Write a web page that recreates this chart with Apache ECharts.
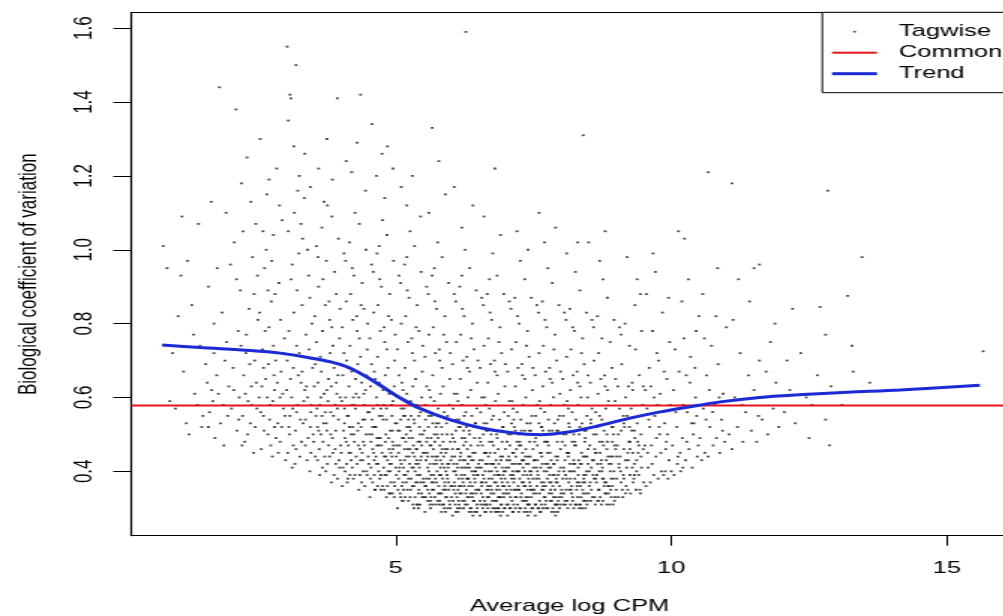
<!DOCTYPE html>
<html><head><meta charset="utf-8">
<script src="https://cdn.jsdelivr.net/npm/echarts@6/dist/echarts.min.js"></script>
<style>html,body{margin:0;padding:0;background:#fff;overflow:hidden}
#wrap{width:1003px;height:616px;overflow:hidden;position:relative}
#c{width:669px;height:616px;transform:scaleX(1.5);transform-origin:0 0;}</style>
</head><body><div id="wrap"><div id="c"></div></div>
<script>
// ---- data ----
const xTicks = [5, 10, 15];
const yTicks = [0.4, 0.6, 0.8, 1.0, 1.2, 1.4, 1.6];
const commonX = [0.2, 16.11];
const commonBCV = [0.578, 0.578];
const trendX = [0.76, 1.45, 2.36, 2.9, 3.45, 3.8, 4.1, 4.35, 4.6, 4.85, 5.1, 5.44, 5.98, 6.53, 7.07, 7.62, 8.16, 8.7, 9.25, 9.8, 10.34, 10.89, 11.6, 12.3, 13.2, 14.15, 15.6];
const trendY = [0.742, 0.735, 0.727, 0.72, 0.707, 0.697, 0.684, 0.666, 0.644, 0.620, 0.597, 0.570, 0.540, 0.518, 0.505, 0.499, 0.507, 0.524, 0.544, 0.561, 0.575, 0.588, 0.600, 0.607, 0.614, 0.620, 0.633];

const tagwiseA = [
[0.78,1.01],[0.85,0.95],[0.95,0.72],[1.0,0.57],[1.05,0.82],[1.1,0.93],[1.15,0.67],[1.2,0.53],[1.25,0.50],[1.3,0.85],[1.35,0.61],[1.4,0.58],[1.42,1.07],[1.45,0.74],[1.5,0.55],[0.9,0.59],[1.22,0.97],[1.33,0.77],[1.48,0.52],[1.12,1.09],
[1.55,0.69],[1.58,0.64],[1.6,0.90],[1.62,0.56],[1.65,1.13],[1.68,0.59],[1.7,0.72],[1.72,0.49],[1.75,0.66],[1.78,0.61],[1.8,1.44],[1.82,0.53],[1.85,0.83],[1.87,0.58],[1.9,0.70],[1.92,1.10],[1.95,0.55],[1.97,0.63],[2.0,0.96],[1.6,0.52],[1.7,0.80],[1.88,0.47],[1.93,0.75],[1.66,0.62],[1.76,0.95],
[2.02,0.57],[2.05,0.68],[2.07,1.02],[2.1,1.38],[2.12,0.51],[2.14,0.78],[2.16,0.60],[2.18,0.89],[2.2,1.18],[2.22,0.55],[2.24,0.66],[2.26,0.48],[2.28,0.72],[2.3,1.25],[2.32,0.59],[2.34,0.84],[2.36,0.53],[2.38,0.63],[2.4,0.98],[2.42,0.45],[2.44,0.70],[2.46,1.07],[2.48,0.57],[2.5,0.81],
[2.06,0.62],[2.11,0.92],[2.15,0.54],[2.19,0.74],[2.23,1.05],[2.27,0.61],[2.31,0.50],[2.35,0.69],[2.39,0.58],[2.43,0.88],[2.47,0.64],[2.21,0.47],[2.29,0.77],[2.37,1.13],[2.45,0.52],[2.49,0.93],
[2.52,0.60],[2.54,1.30],[2.56,0.46],[2.58,0.73],[2.6,0.55],[2.62,0.95],[2.64,0.65],[2.66,1.15],[2.68,0.50],[2.7,0.79],[2.72,0.58],[2.74,0.86],[2.76,0.44],[2.78,1.04],[2.8,0.62],[2.82,0.70],[2.84,1.22],[2.86,0.53],[2.88,0.91],[2.9,0.48],[2.92,0.67],[2.94,1.08],[2.96,0.57],[2.98,0.76],[3.0,0.43],
[2.53,0.83],[2.57,0.63],[2.61,0.51],[2.65,1.00],[2.69,0.69],[2.73,0.47],[2.77,0.59],[2.81,0.88],[2.85,0.64],[2.89,1.12],[2.93,0.52],[2.97,0.72],[2.55,0.56],[2.63,0.78],[2.71,0.54],[2.79,0.66],[2.87,0.45],[2.95,0.61],[2.59,1.05],[2.67,0.60],[2.75,0.97],[2.83,0.49],[2.91,0.81],[2.99,0.55],[2.6,0.68],[2.7,1.19],[2.8,0.52],[2.9,0.60],[2.78,0.74],[2.68,0.89],
[3.03,1.55],[3.19,1.50],[3.08,1.42],[3.1,1.41],[3.05,1.35],[3.15,1.28],[3.25,1.20],[3.35,1.26],[3.45,1.17],
[3.02,0.62],[3.04,0.45],[3.06,0.78],[3.08,0.55],[3.1,0.92],[3.12,0.41],[3.14,0.68],[3.16,1.10],[3.18,0.51],[3.2,0.74],[3.22,0.58],[3.24,0.99],[3.26,0.44],[3.28,0.64],[3.3,0.85],[3.32,0.53],[3.34,1.14],[3.36,0.47],[3.38,0.71],[3.4,0.60],[3.42,0.93],[3.44,0.40],[3.46,0.56],[3.48,0.80],[3.5,0.50],
[3.03,0.70],[3.07,0.50],[3.11,0.60],[3.15,0.83],[3.19,0.46],[3.23,0.66],[3.27,0.54],[3.31,1.03],[3.35,0.62],[3.39,0.43],[3.43,0.73],[3.47,0.58],[3.05,1.05],[3.13,0.57],[3.21,0.89],[3.29,0.48],[3.37,0.77],[3.45,0.52],[3.09,0.65],[3.17,0.42],[3.25,0.72],[3.33,0.59],[3.41,0.49],[3.49,0.68],[3.12,0.96],[3.28,1.07],[3.44,0.87],[3.2,0.56],[3.36,0.54],[3.06,0.52],[3.14,0.47],[3.3,0.67],[3.46,0.45],[3.4,1.00],[3.22,1.16],[3.38,0.63]
];
const tagwiseB = [
[3.94,1.41],[3.6,1.22],[3.75,1.30],[3.85,1.19],[3.7,1.13],
[3.52,0.63],[3.54,0.44],[3.56,0.75],[3.58,0.52],[3.6,0.90],[3.62,0.39],[3.64,0.60],[3.66,1.06],[3.68,0.48],[3.7,0.70],[3.72,0.56],[3.74,0.97],[3.76,0.42],[3.78,0.65],[3.8,0.81],[3.82,0.50],[3.84,1.09],[3.86,0.45],[3.88,0.68],[3.9,0.58],[3.92,0.88],[3.94,0.38],[3.96,0.54],[3.98,0.76],[4.0,0.47],
[3.53,0.82],[3.57,0.57],[3.61,0.46],[3.65,0.67],[3.69,0.53],[3.73,0.40],[3.77,0.59],[3.81,0.72],[3.85,0.49],[3.89,0.94],[3.93,0.61],[3.97,0.43],[3.55,0.55],[3.63,0.71],[3.71,0.44],[3.79,0.86],[3.87,0.55],[3.95,0.66],[3.59,0.98],[3.67,0.41],[3.75,0.62],[3.83,0.37],[3.91,0.51],[3.99,0.60],[3.51,0.48],[3.59,0.64],[3.67,0.78],[3.75,0.51],[3.83,0.63],[3.91,0.42],[3.99,0.84],[3.56,1.01],[3.64,0.50],[3.72,0.85],[3.8,0.44],[3.88,0.39],[3.96,1.03],[3.62,0.58],[3.78,0.47],[3.94,0.57],[3.7,0.61],[3.86,0.74],[3.54,0.69],[3.68,0.92],[3.82,0.56],[3.98,0.41],[3.74,0.53],[3.9,0.46],[3.58,0.43],[3.66,0.55],[3.84,0.79],[3.92,0.64],[3.76,1.12],[3.6,0.51],
[4.36,1.42],[4.1,1.24],[4.2,1.21],[4.3,1.29],[4.45,1.16],
[4.02,0.59],[4.04,0.41],[4.06,0.72],[4.08,0.49],[4.1,0.86],[4.12,0.37],[4.14,0.55],[4.16,1.02],[4.18,0.45],[4.2,0.67],[4.22,0.52],[4.24,0.93],[4.26,0.39],[4.28,0.61],[4.3,0.78],[4.32,0.47],[4.34,1.07],[4.36,0.43],[4.38,0.64],[4.4,0.54],[4.42,0.84],[4.44,0.36],[4.46,0.50],[4.48,0.73],[4.5,0.44],
[4.03,0.79],[4.07,0.53],[4.11,0.42],[4.15,0.63],[4.19,0.50],[4.23,0.38],[4.27,0.57],[4.31,0.69],[4.35,0.46],[4.39,0.91],[4.43,0.58],[4.47,0.40],[4.05,0.51],[4.13,0.68],[4.21,0.41],[4.29,0.82],[4.37,0.52],[4.45,0.62],[4.09,0.97],[4.17,0.39],[4.25,0.58],[4.33,0.35],[4.41,0.48],[4.49,0.56],[4.01,0.45],[4.09,0.60],[4.17,0.74],[4.25,0.48],[4.33,0.60],[4.41,0.40],[4.49,0.80],[4.06,0.99],[4.14,0.47],[4.22,0.81],[4.3,0.42],[4.38,0.37],[4.46,1.00],[4.12,0.55],[4.28,0.44],[4.44,0.54],[4.2,0.58],[4.36,0.71],[4.04,0.66],[4.18,0.88],[4.32,0.53],[4.48,0.39],[4.24,0.50],[4.4,0.43],[4.08,0.40],[4.16,0.52],[4.34,0.76],[4.42,0.61],[4.26,1.10],[4.1,0.48],[4.03,0.36],[4.11,0.70],[4.19,0.43],[4.27,0.65],[4.35,0.39],[4.43,0.47],[4.07,0.57],[4.15,0.45],[4.23,0.60],[4.31,0.51],[4.39,0.45],[4.47,0.66],[4.21,0.95],[4.37,0.85],[4.13,0.38],
[4.57,1.34],[4.75,1.26],[4.85,1.28],[4.95,1.22],[4.65,1.20],[4.8,1.14],
[4.52,0.56],[4.54,0.38],[4.56,0.69],[4.58,0.46],[4.6,0.83],[4.62,0.35],[4.64,0.52],[4.66,0.99],[4.68,0.42],[4.7,0.64],[4.72,0.49],[4.74,0.90],[4.76,0.36],[4.78,0.58],[4.8,0.75],[4.82,0.44],[4.84,1.04],[4.86,0.40],[4.88,0.61],[4.9,0.51],[4.92,0.81],[4.94,0.34],[4.96,0.47],[4.98,0.70],[5.0,0.41],
[4.53,0.76],[4.57,0.50],[4.61,0.39],[4.65,0.60],[4.69,0.47],[4.73,0.35],[4.77,0.54],[4.81,0.66],[4.85,0.43],[4.89,0.88],[4.93,0.55],[4.97,0.37],[4.55,0.48],[4.63,0.65],[4.71,0.38],[4.79,0.79],[4.87,0.49],[4.95,0.59],[4.59,0.94],[4.67,0.36],[4.75,0.55],[4.83,0.33],[4.91,0.45],[4.99,0.53],[4.51,0.42],[4.59,0.57],[4.67,0.71],[4.75,0.45],[4.83,0.57],[4.91,0.37],[4.99,0.77],[4.56,0.96],[4.64,0.44],[4.72,0.78],[4.8,0.39],[4.88,0.34],[4.96,0.97],[4.62,0.52],[4.78,0.41],[4.94,0.51],[4.7,0.55],[4.86,0.68],[4.54,0.63],[4.68,0.85],[4.82,0.50],[4.98,0.36],[4.74,0.47],[4.9,0.40],[4.58,0.37],[4.66,0.49],[4.84,0.73],[4.92,0.58],[4.76,1.08],[4.6,0.45],[4.53,0.33],[4.61,0.67],[4.69,0.40],[4.77,0.62],[4.85,0.36],[4.93,0.44],[4.57,0.54],[4.65,0.42],[4.73,0.57],[4.81,0.48],[4.89,0.42],[4.97,0.63],[4.71,0.92],[4.87,0.82],[4.63,0.35],[4.55,0.41],[4.79,0.44],[4.95,0.46],[4.67,0.58],[4.83,0.39],[4.52,0.50],[4.9,0.34],[4.7,1.01],
[5.3,1.20],[5.1,1.17],[5.45,1.09],[5.2,1.12],
[5.02,0.53],[5.04,0.35],[5.06,0.66],[5.08,0.43],[5.1,0.80],[5.12,0.32],[5.14,0.49],[5.16,0.96],[5.18,0.39],[5.2,0.61],[5.22,0.46],[5.24,0.87],[5.26,0.33],[5.28,0.55],[5.3,0.72],[5.32,0.41],[5.34,1.01],[5.36,0.37],[5.38,0.58],[5.4,0.48],[5.42,0.78],[5.44,0.31],[5.46,0.44],[5.48,0.67],[5.5,0.38],
[5.03,0.73],[5.07,0.47],[5.11,0.36],[5.15,0.57],[5.19,0.44],[5.23,0.32],[5.27,0.51],[5.31,0.63],[5.35,0.40],[5.39,0.85],[5.43,0.52],[5.47,0.34],[5.05,0.45],[5.13,0.62],[5.21,0.35],[5.29,0.76],[5.37,0.46],[5.45,0.56],[5.09,0.91],[5.17,0.33],[5.25,0.52],[5.33,0.30],[5.41,0.42],[5.49,0.50],[5.01,0.39],[5.09,0.54],[5.17,0.68],[5.25,0.42],[5.33,0.54],[5.41,0.34],[5.49,0.74],[5.06,0.93],[5.14,0.41],[5.22,0.75],[5.3,0.36],[5.38,0.31],[5.46,0.94],[5.12,0.49],[5.28,0.38],[5.44,0.48],[5.2,0.52],[5.36,0.65],[5.04,0.60],[5.18,0.82],[5.32,0.47],[5.48,0.33],[5.24,0.44],[5.4,0.37],[5.08,0.34],[5.16,0.46],[5.34,0.70],[5.42,0.55],[5.26,1.05],[5.1,0.42],[5.03,0.30],[5.11,0.64],[5.19,0.37],[5.27,0.59],[5.35,0.33],[5.43,0.41],[5.07,0.51],[5.15,0.39],[5.23,0.54],[5.31,0.45],[5.39,0.39],[5.47,0.60],[5.21,0.89],[5.37,0.79],[5.13,0.32],[5.05,0.38],[5.29,0.41],[5.45,0.43],[5.17,0.55],[5.33,0.36],[5.02,0.47],[5.4,0.31],[5.2,0.98],[5.06,0.40],[5.14,0.35],[5.22,0.40],[5.3,0.49],[5.38,0.43],[5.46,0.37],[5.1,0.57],[5.26,0.46],[5.42,0.35],[5.34,0.44],[5.18,0.48],[5.5,0.45]
];
const tagwiseC = [
[5.66,1.33],[5.78,1.24],[5.9,1.15],[5.6,1.10],
[5.52,0.51],[5.54,0.33],[5.56,0.63],[5.58,0.41],[5.6,0.77],[5.62,0.31],[5.64,0.47],[5.66,0.93],[5.68,0.37],[5.7,0.59],[5.72,0.44],[5.74,0.84],[5.76,0.32],[5.78,0.53],[5.8,0.70],[5.82,0.39],[5.84,0.98],[5.86,0.35],[5.88,0.56],[5.9,0.46],[5.92,0.75],[5.94,0.30],[5.96,0.42],[5.98,0.65],[6.0,0.36],
[5.53,0.71],[5.57,0.45],[5.61,0.34],[5.65,0.55],[5.69,0.42],[5.73,0.31],[5.77,0.49],[5.81,0.61],[5.85,0.38],[5.89,0.82],[5.93,0.50],[5.97,0.32],[5.55,0.43],[5.63,0.60],[5.71,0.33],[5.79,0.73],[5.87,0.44],[5.95,0.54],[5.59,0.88],[5.67,0.31],[5.75,0.50],[5.83,0.29],[5.91,0.40],[5.99,0.48],[5.51,0.37],[5.59,0.52],[5.67,0.66],[5.75,0.40],[5.83,0.52],[5.91,0.33],[5.99,0.72],[5.56,0.90],[5.64,0.39],[5.72,0.72],[5.8,0.34],[5.88,0.30],[5.96,0.91],[5.62,0.47],[5.78,0.36],[5.94,0.46],[5.7,0.50],[5.86,0.63],[5.54,0.58],[5.68,0.79],[5.82,0.45],[5.98,0.31],[5.74,0.42],[5.9,0.35],[5.58,0.32],[5.66,0.44],[5.84,0.68],[5.92,0.53],[5.76,1.02],[5.6,0.40],[5.53,0.29],[5.61,0.62],[5.69,0.35],[5.77,0.57],[5.85,0.31],[5.93,0.39],[5.57,0.49],[5.65,0.37],[5.73,0.52],[5.81,0.43],[5.89,0.37],[5.97,0.58],[5.71,0.86],[5.87,0.77],[5.63,0.30],[5.55,0.36],[5.79,0.39],[5.95,0.41],[5.67,0.53],[5.83,0.34],[5.52,0.45],[5.9,0.29],[5.7,0.95],[5.56,0.38],[5.64,0.33],[5.72,0.38],[5.8,0.47],[5.88,0.41],[5.96,0.35],[5.6,0.55],[5.76,0.44],[5.92,0.33],[5.84,0.42],[5.68,0.46],[6.0,0.43],[5.58,0.35],[5.74,0.37],[5.86,0.48],[5.94,0.38],[5.62,0.42],[5.8,0.32],
[6.27,1.59],[6.06,1.17],[6.4,1.12],[6.2,1.06],
[6.02,0.50],[6.04,0.32],[6.06,0.61],[6.08,0.40],[6.1,0.75],[6.12,0.30],[6.14,0.46],[6.16,0.90],[6.18,0.36],[6.2,0.58],[6.22,0.43],[6.24,0.82],[6.26,0.31],[6.28,0.52],[6.3,0.68],[6.32,0.38],[6.34,0.95],[6.36,0.34],[6.38,0.55],[6.4,0.45],[6.42,0.73],[6.44,0.29],[6.46,0.41],[6.48,0.64],[6.5,0.35],
[6.03,0.69],[6.07,0.44],[6.11,0.33],[6.15,0.54],[6.19,0.41],[6.23,0.30],[6.27,0.48],[6.31,0.60],[6.35,0.37],[6.39,0.80],[6.43,0.49],[6.47,0.31],[6.05,0.42],[6.13,0.59],[6.21,0.32],[6.29,0.71],[6.37,0.43],[6.45,0.53],[6.09,0.86],[6.17,0.30],[6.25,0.49],[6.33,0.29],[6.41,0.39],[6.49,0.47],[6.01,0.36],[6.09,0.51],[6.17,0.65],[6.25,0.39],[6.33,0.51],[6.41,0.32],[6.49,0.70],[6.06,0.88],[6.14,0.38],[6.22,0.70],[6.3,0.33],[6.38,0.29],[6.46,0.89],[6.12,0.46],[6.28,0.35],[6.44,0.45],[6.2,0.49],[6.36,0.62],[6.04,0.57],[6.18,0.77],[6.32,0.44],[6.48,0.30],[6.24,0.41],[6.4,0.34],[6.08,0.31],[6.16,0.43],[6.34,0.67],[6.42,0.52],[6.26,1.00],[6.1,0.39],[6.03,0.28],[6.11,0.61],[6.19,0.34],[6.27,0.56],[6.35,0.30],[6.43,0.38],[6.07,0.48],[6.15,0.36],[6.23,0.51],[6.31,0.42],[6.39,0.36],[6.47,0.57],[6.21,0.84],[6.37,0.76],[6.13,0.29],[6.05,0.35],[6.29,0.38],[6.45,0.40],[6.17,0.52],[6.33,0.33],[6.02,0.44],[6.4,0.28],[6.2,0.93],[6.06,0.37],[6.14,0.32],[6.22,0.37],[6.3,0.46],[6.38,0.40],[6.46,0.34],[6.1,0.54],[6.26,0.43],[6.42,0.32],[6.34,0.41],[6.18,0.45],[6.5,0.42],[6.08,0.34],[6.24,0.36],[6.36,0.47],[6.44,0.37],[6.12,0.41],[6.3,0.31],[6.48,0.39],[6.16,0.34],
[6.8,1.22],[6.6,1.09],[6.9,1.04],
[6.52,0.49],[6.54,0.31],[6.56,0.60],[6.58,0.39],[6.6,0.74],[6.62,0.29],[6.64,0.45],[6.66,0.88],[6.68,0.35],[6.7,0.57],[6.72,0.42],[6.74,0.81],[6.76,0.30],[6.78,0.51],[6.8,0.67],[6.82,0.37],[6.84,0.93],[6.86,0.33],[6.88,0.54],[6.9,0.44],[6.92,0.72],[6.94,0.29],[6.96,0.40],[6.98,0.63],[7.0,0.34],
[6.53,0.68],[6.57,0.43],[6.61,0.32],[6.65,0.53],[6.69,0.40],[6.73,0.29],[6.77,0.47],[6.81,0.59],[6.85,0.36],[6.89,0.79],[6.93,0.48],[6.97,0.30],[6.55,0.41],[6.63,0.58],[6.71,0.31],[6.79,0.70],[6.87,0.42],[6.95,0.52],[6.59,0.85],[6.67,0.30],[6.75,0.48],[6.83,0.29],[6.91,0.38],[6.99,0.46],[6.51,0.35],[6.59,0.50],[6.67,0.64],[6.75,0.38],[6.83,0.50],[6.91,0.31],[6.99,0.69],[6.56,0.87],[6.64,0.37],[6.72,0.69],[6.8,0.32],[6.88,0.29],[6.96,0.88],[6.62,0.45],[6.78,0.34],[6.94,0.44],[6.7,0.48],[6.86,0.61],[6.54,0.56],[6.68,0.76],[6.82,0.43],[6.98,0.30],[6.74,0.40],[6.9,0.33],[6.58,0.30],[6.66,0.42],[6.84,0.66],[6.92,0.51],[6.76,0.99],[6.6,0.38],[6.53,0.28],[6.61,0.60],[6.69,0.33],[6.77,0.55],[6.85,0.30],[6.93,0.37],[6.57,0.47],[6.65,0.35],[6.73,0.50],[6.81,0.41],[6.89,0.35],[6.97,0.56],[6.71,0.83],[6.87,0.75],[6.63,0.29],[6.55,0.34],[6.79,0.37],[6.95,0.39],[6.67,0.51],[6.83,0.32],[6.52,0.43],[6.9,0.28],[6.7,0.92],[6.56,0.36],[6.64,0.31],[6.72,0.36],[6.8,0.45],[6.88,0.39],[6.96,0.33],[6.6,0.53],[6.76,0.42],[6.92,0.31],[6.84,0.40],[6.68,0.44],[7.0,0.41],[6.58,0.33],[6.74,0.35],[6.86,0.46],[6.94,0.36],[6.62,0.40],[6.8,0.30],[6.98,0.38],[6.66,0.33],
[7.2,1.05],[7.4,1.00],
[7.02,0.48],[7.04,0.31],[7.06,0.59],[7.08,0.39],[7.1,0.73],[7.12,0.29],[7.14,0.45],[7.16,0.87],[7.18,0.35],[7.2,0.56],[7.22,0.42],[7.24,0.80],[7.26,0.30],[7.28,0.51],[7.3,0.66],[7.32,0.37],[7.34,0.92],[7.36,0.33],[7.38,0.53],[7.4,0.44],[7.42,0.71],[7.44,0.29],[7.46,0.40],[7.48,0.62],[7.5,0.34],
[7.03,0.67],[7.07,0.43],[7.11,0.32],[7.15,0.52],[7.19,0.40],[7.23,0.29],[7.27,0.47],[7.31,0.58],[7.35,0.36],[7.39,0.78],[7.43,0.48],[7.47,0.30],[7.05,0.41],[7.13,0.57],[7.21,0.31],[7.29,0.69],[7.37,0.42],[7.45,0.51],[7.09,0.84],[7.17,0.30],[7.25,0.48],[7.33,0.29],[7.41,0.38],[7.49,0.46],[7.01,0.35],[7.09,0.50],[7.17,0.63],[7.25,0.38],[7.33,0.50],[7.41,0.31],[7.49,0.68],[7.06,0.86],[7.14,0.37],[7.22,0.68],[7.3,0.32],[7.38,0.29],[7.46,0.87],[7.12,0.45],[7.28,0.34],[7.44,0.44],[7.2,0.48],[7.36,0.60],[7.04,0.55],[7.18,0.75],[7.32,0.43],[7.48,0.30],[7.24,0.40],[7.4,0.33],[7.08,0.30],[7.16,0.42],[7.34,0.65],[7.42,0.51],[7.26,0.97],[7.1,0.38],[7.03,0.28],[7.11,0.59],[7.19,0.33],[7.27,0.54],[7.35,0.30],[7.43,0.37],[7.07,0.47],[7.15,0.35],[7.23,0.50],[7.31,0.41],[7.39,0.35],[7.47,0.55],[7.21,0.82],[7.37,0.74],[7.13,0.29],[7.05,0.34],[7.29,0.37],[7.45,0.39],[7.17,0.51],[7.33,0.32],[7.02,0.43],[7.4,0.28],[7.06,0.36],[7.14,0.31],[7.22,0.36],[7.3,0.45],[7.38,0.39],[7.46,0.33],[7.1,0.53],[7.26,0.42],[7.42,0.31],[7.34,0.40],[7.18,0.44],[7.5,0.41],[7.08,0.33],[7.24,0.35],[7.36,0.46],[7.44,0.36],[7.12,0.40]
];
const tagwiseD = [
[7.9,1.06],[7.7,1.02],[7.6,1.10],
[7.52,0.48],[7.54,0.31],[7.56,0.58],[7.58,0.39],[7.6,0.72],[7.62,0.29],[7.64,0.45],[7.66,0.86],[7.68,0.35],[7.7,0.56],[7.72,0.42],[7.74,0.79],[7.76,0.30],[7.78,0.51],[7.8,0.65],[7.82,0.37],[7.84,0.91],[7.86,0.33],[7.88,0.53],[7.9,0.44],[7.92,0.70],[7.94,0.29],[7.96,0.40],[7.98,0.61],[8.0,0.34],
[7.53,0.66],[7.57,0.43],[7.61,0.32],[7.65,0.52],[7.69,0.40],[7.73,0.30],[7.77,0.47],[7.81,0.58],[7.85,0.36],[7.89,0.77],[7.93,0.48],[7.97,0.30],[7.55,0.41],[7.63,0.57],[7.71,0.31],[7.79,0.68],[7.87,0.42],[7.95,0.51],[7.59,0.83],[7.67,0.30],[7.75,0.48],[7.83,0.29],[7.91,0.38],[7.99,0.46],[7.51,0.35],[7.59,0.50],[7.67,0.63],[7.75,0.38],[7.83,0.50],[7.91,0.31],[7.99,0.67],[7.56,0.85],[7.64,0.37],[7.72,0.67],[7.8,0.32],[7.88,0.29],[7.96,0.85],[7.62,0.45],[7.78,0.34],[7.94,0.44],[7.7,0.48],[7.86,0.60],[7.54,0.55],[7.68,0.74],[7.82,0.43],[7.98,0.31],[7.74,0.40],[7.9,0.33],[7.58,0.30],[7.66,0.42],[7.84,0.64],[7.92,0.51],[7.76,0.95],[7.6,0.38],[7.53,0.28],[7.61,0.59],[7.69,0.33],[7.77,0.54],[7.85,0.30],[7.93,0.37],[7.57,0.47],[7.65,0.35],[7.73,0.50],[7.81,0.41],[7.89,0.35],[7.97,0.55],[7.71,0.81],[7.87,0.73],[7.63,0.29],[7.55,0.34],[7.79,0.37],[7.95,0.39],[7.67,0.51],[7.83,0.32],[7.52,0.43],[7.9,0.28],[7.56,0.36],[7.64,0.31],[7.72,0.36],[7.8,0.45],[7.88,0.39],[7.96,0.33],[7.6,0.53],[7.76,0.42],[7.92,0.31],
[8.4,1.31],[8.3,1.02],[8.1,0.99],[8.5,1.02],
[8.02,0.48],[8.04,0.31],[8.06,0.58],[8.08,0.39],[8.1,0.71],[8.12,0.30],[8.14,0.45],[8.16,0.84],[8.18,0.35],[8.2,0.56],[8.22,0.42],[8.24,0.78],[8.26,0.31],[8.28,0.51],[8.3,0.64],[8.32,0.37],[8.34,0.89],[8.36,0.33],[8.38,0.53],[8.4,0.44],[8.42,0.69],[8.44,0.30],[8.46,0.40],[8.48,0.60],[8.5,0.34],
[8.03,0.65],[8.07,0.43],[8.11,0.32],[8.15,0.52],[8.19,0.40],[8.23,0.30],[8.27,0.47],[8.31,0.58],[8.35,0.36],[8.39,0.76],[8.43,0.48],[8.47,0.31],[8.05,0.41],[8.13,0.57],[8.21,0.32],[8.29,0.67],[8.37,0.42],[8.45,0.51],[8.09,0.81],[8.17,0.31],[8.25,0.48],[8.33,0.30],[8.41,0.38],[8.49,0.46],[8.01,0.35],[8.09,0.50],[8.17,0.62],[8.25,0.38],[8.33,0.50],[8.41,0.32],[8.49,0.66],[8.06,0.83],[8.14,0.37],[8.22,0.66],[8.3,0.33],[8.38,0.30],[8.46,0.83],[8.12,0.45],[8.28,0.35],[8.44,0.44],[8.2,0.48],[8.36,0.60],[8.04,0.55],[8.18,0.73],[8.32,0.43],[8.48,0.32],[8.24,0.40],[8.4,0.34],[8.08,0.31],[8.16,0.42],[8.34,0.63],[8.42,0.51],[8.26,0.94],[8.1,0.38],[8.11,0.59],[8.19,0.34],[8.27,0.54],[8.35,0.31],[8.43,0.37],[8.07,0.47],[8.15,0.35],[8.23,0.50],[8.31,0.41],[8.39,0.35],[8.47,0.55],[8.21,0.79],[8.37,0.72],[8.05,0.34],[8.29,0.37],[8.45,0.39],
[8.52,0.47],[8.54,0.32],[8.56,0.57],[8.58,0.39],[8.6,0.70],[8.62,0.31],[8.64,0.45],[8.66,0.82],[8.68,0.35],[8.7,0.55],[8.72,0.42],[8.74,0.76],[8.76,0.32],[8.78,0.51],[8.8,0.63],[8.82,0.37],[8.84,0.87],[8.86,0.34],[8.88,0.53],[8.9,0.44],[8.92,0.68],[8.94,0.31],[8.96,0.40],[8.98,0.59],[9.0,0.35],
[8.53,0.64],[8.57,0.43],[8.61,0.33],[8.65,0.52],[8.69,0.40],[8.73,0.31],[8.77,0.47],[8.81,0.57],[8.85,0.36],[8.89,0.75],[8.93,0.48],[8.97,0.32],[8.55,0.41],[8.63,0.56],[8.71,0.33],[8.79,0.66],[8.87,0.42],[8.95,0.50],[8.59,0.79],[8.67,0.32],[8.75,0.48],[8.83,0.31],[8.91,0.38],[8.99,0.46],[8.51,0.36],[8.59,0.50],[8.67,0.61],[8.75,0.38],[8.83,0.50],[8.91,0.33],[8.99,0.65],[8.56,0.81],[8.64,0.37],[8.72,0.65],[8.8,0.34],[8.88,0.31],[8.96,0.81],[8.62,0.45],[8.78,0.36],[8.94,0.44],[8.7,0.48],[8.86,0.59],[8.54,0.54],[8.68,0.72],[8.82,0.43],[8.98,0.33],[8.74,0.40],[8.9,0.35],[8.66,0.42],[8.84,0.62],[8.92,0.52],[8.76,0.92],[8.6,0.38],[8.8,1.05],[8.7,0.97],
[9.02,0.47],[9.04,0.33],[9.06,0.57],[9.08,0.40],[9.1,0.69],[9.12,0.33],[9.14,0.46],[9.16,0.80],[9.18,0.36],[9.2,0.55],[9.22,0.43],[9.24,0.74],[9.26,0.34],[9.28,0.51],[9.3,0.62],[9.32,0.38],[9.34,0.85],[9.36,0.35],[9.38,0.53],[9.4,0.45],[9.42,0.66],[9.44,0.34],[9.46,0.41],[9.48,0.58],[9.5,0.37],
[9.03,0.63],[9.07,0.44],[9.11,0.35],[9.15,0.52],[9.19,0.41],[9.23,0.48],[9.27,0.57],[9.31,0.37],[9.35,0.73],[9.39,0.48],[9.43,0.35],[9.05,0.41],[9.13,0.55],[9.21,0.35],[9.29,0.64],[9.37,0.43],[9.45,0.50],[9.09,0.77],[9.17,0.34],[9.25,0.48],[9.33,0.42],[9.41,0.39],[9.49,0.46],[9.01,0.38],[9.09,0.51],[9.17,0.60],[9.25,0.39],[9.33,0.51],[9.41,0.55],[9.49,0.63],[9.06,0.79],[9.14,0.38],[9.22,0.63],[9.3,0.45],[9.38,0.92],[9.46,0.78],[9.2,0.98],[9.44,0.88]
];
const tagwiseE = [
[9.52,0.47],[9.54,0.36],[9.56,0.57],[9.58,0.41],[9.6,0.68],[9.62,0.37],[9.64,0.47],[9.66,0.78],[9.68,0.39],[9.7,0.55],[9.72,0.44],[9.74,0.72],[9.76,0.38],[9.78,0.52],[9.8,0.61],[9.82,0.40],[9.84,0.83],[9.86,0.39],[9.88,0.53],[9.9,0.46],[9.92,0.65],[9.94,0.38],[9.96,0.43],[9.98,0.58],[10.0,0.40],
[9.53,0.62],[9.57,0.45],[9.61,0.52],[9.65,0.42],[9.69,0.60],[9.73,0.49],[9.77,0.70],[9.81,0.45],[9.85,0.56],[9.89,0.40],[9.93,0.50],[9.97,0.75],[9.55,0.88],[9.63,0.63],[9.71,0.94],[9.79,0.50],[9.87,0.67],[9.95,0.87],[9.59,0.54],[9.75,0.58],[9.91,0.48],[9.67,0.99],
[10.13,1.05],[10.24,1.03],
[10.02,0.47],[10.05,0.39],[10.08,0.56],[10.11,0.42],[10.14,0.67],[10.17,0.40],[10.2,0.49],[10.23,0.76],[10.26,0.43],[10.29,0.56],[10.32,0.46],[10.35,0.71],[10.38,0.41],[10.41,0.53],[10.44,0.60],[10.47,0.44],[10.5,0.82],
[10.04,0.62],[10.1,0.52],[10.16,0.45],[10.22,0.58],[10.28,0.48],[10.34,0.64],[10.4,0.50],[10.46,0.55],[10.07,0.73],[10.19,0.86],[10.31,0.92],[10.43,0.68],[10.12,0.44],[10.27,0.66],[10.37,0.53],[10.49,0.47],[10.21,0.41],[10.45,0.78],
[10.67,1.21],
[10.52,0.49],[10.55,0.43],[10.58,0.57],[10.61,0.45],[10.64,0.66],[10.67,0.44],[10.7,0.52],[10.73,0.74],[10.76,0.47],[10.79,0.58],[10.82,0.49],[10.85,0.69],[10.88,0.45],[10.91,0.54],[10.94,0.61],[10.97,0.48],[11.0,0.79],
[10.57,0.88],[10.63,0.54],[10.69,0.62],[10.75,0.56],[10.81,0.82],[10.87,0.60],[10.93,0.51],[10.6,0.76],[10.84,0.95],
[11.1,1.18],[11.5,0.95],[11.6,0.96],
[11.05,0.50],[11.1,0.46],[11.15,0.60],[11.2,0.52],[11.25,0.72],[11.3,0.48],[11.35,0.56],[11.4,0.66],[11.45,0.51],[11.5,0.62],[11.55,0.48],[11.6,0.70],[11.65,0.54],[11.7,0.60],[11.75,0.50],[11.8,0.75],[11.85,0.57],[11.9,0.64],[11.95,0.52],
[11.12,0.81],[11.28,0.58],[11.42,0.86],[11.58,0.55],[11.72,0.67],[11.88,0.80],[11.22,0.92],
[12.84,1.16],[12.7,0.845],[12.8,0.77],[12.87,0.47],[12.8,0.54],
[12.05,0.56],[12.15,0.62],[12.25,0.53],[12.35,0.72],[12.45,0.60],[12.55,0.58],[12.65,0.66],[12.2,0.84],[12.5,0.49],[12.9,0.63],[12.1,0.70],
[13.46,0.98],[13.2,0.875],[13.28,0.74],[13.1,0.58],[13.6,0.64],[15.66,0.725],[13.3,0.67]
];
const tagwiseCore = [
[4.61,0.43],[4.73,0.39],[4.88,0.46],[4.97,0.33],[5.07,0.41],[5.13,0.37],[5.19,0.50],[5.27,0.35],[5.36,0.42],[5.41,0.30],[5.47,0.47],[5.53,0.36],[5.58,0.44],[5.63,0.32],[5.69,0.39],[5.71,0.48],[5.77,0.34],[5.81,0.41],[5.87,0.31],[5.91,0.45],[5.96,0.37],[6.01,0.33],[6.05,0.40],[6.09,0.29],[6.13,0.35],[6.17,0.44],[6.21,0.38],[6.25,0.32],[6.29,0.41],[6.33,0.36],[6.37,0.30],[6.41,0.43],[6.45,0.35],[6.49,0.39],[6.53,0.32],[6.57,0.37],[6.61,0.45],[6.65,0.31],[6.69,0.38],[6.73,0.34],[6.77,0.42],[6.81,0.29],[6.85,0.39],[6.89,0.33],[6.93,0.41],[6.97,0.36],[7.01,0.31],[7.05,0.44],[7.09,0.35],[7.13,0.39],[7.17,0.33],[7.21,0.40],[7.25,0.30],[7.29,0.43],[7.33,0.36],[7.37,0.32],[7.41,0.42],[7.45,0.35],[7.49,0.38],[7.53,0.31],[7.57,0.40],[7.61,0.34],[7.65,0.44],[7.69,0.37],[7.73,0.32],[7.77,0.41],[7.81,0.35],[7.85,0.39],[7.89,0.31],[7.93,0.43],[7.97,0.36],[8.01,0.33],[8.05,0.40],[8.09,0.35],[8.13,0.44],[8.17,0.38],[8.21,0.33],[8.25,0.42],[8.29,0.36],[8.33,0.31],[8.37,0.45],[8.41,0.39],[8.45,0.34],[8.49,0.42],[8.53,0.37],[8.57,0.33],[8.61,0.46],[8.65,0.39],[8.69,0.35],[8.73,0.43],[8.77,0.38],[8.81,0.34],[8.85,0.44],[8.89,0.40],[8.93,0.36],[8.97,0.47],[9.05,0.42],[9.13,0.39],[9.21,0.45],[9.29,0.41],[9.37,0.40],[9.45,0.44],
[4.66,0.47],[4.79,0.35],[4.92,0.42],[5.01,0.44],[5.09,0.33],[5.16,0.43],[5.23,0.38],[5.31,0.31],[5.38,0.46],[5.44,0.39],[5.51,0.33],[5.56,0.48],[5.61,0.38],[5.66,0.35],[5.73,0.43],[5.79,0.31],[5.84,0.46],[5.89,0.36],[5.94,0.42],[5.99,0.30],[6.03,0.46],[6.07,0.36],[6.11,0.42],[6.15,0.31],[6.19,0.39],[6.23,0.47],[6.27,0.34],[6.31,0.38],[6.35,0.44],[6.39,0.33],[6.43,0.40],[6.47,0.29],[6.51,0.41],[6.55,0.37],[6.59,0.31],[6.63,0.42],[6.67,0.36],[6.71,0.45],[6.75,0.32],[6.79,0.39],[6.83,0.35],[6.87,0.30],[6.91,0.43],[6.95,0.34],[6.99,0.40],[7.03,0.37],[7.07,0.30],[7.11,0.42],[7.15,0.38],[7.19,0.46],[7.23,0.35],[7.27,0.33],[7.31,0.39],[7.35,0.44],[7.39,0.31],[7.43,0.40],[7.47,0.35],[7.51,0.43],[7.55,0.38],[7.59,0.30],[7.63,0.41],[7.67,0.36],[7.71,0.33],[7.75,0.45],[7.79,0.39],[7.83,0.34],[7.87,0.42],[7.91,0.37],[7.95,0.32],[7.99,0.41],[8.03,0.38],[8.07,0.32],[8.11,0.45],[8.15,0.40],[8.19,0.36],[8.23,0.43],[8.27,0.31],[8.31,0.39],[8.35,0.42],[8.39,0.37],[8.43,0.32],[8.47,0.44],[8.51,0.40],[8.55,0.35],[8.59,0.43],[8.63,0.38],[8.67,0.32],[8.71,0.45],[8.75,0.41],[8.79,0.37],[8.83,0.46],[8.87,0.36],[8.91,0.42],[8.95,0.38],[9.01,0.44],[9.09,0.37],[9.17,0.43],[9.25,0.46],[9.33,0.39],[9.41,0.47],
[4.58,0.52],[4.69,0.49],[4.83,0.54],[4.94,0.48],[5.04,0.51],[5.14,0.55],[5.24,0.49],[5.34,0.53],[5.44,0.50],[5.54,0.54],[5.64,0.49],[5.74,0.53],[5.84,0.50],[5.94,0.55],[6.04,0.49],[6.14,0.52],[6.24,0.55],[6.34,0.50],[6.44,0.53],[6.54,0.48],[6.64,0.51],[6.74,0.54],[6.84,0.49],[6.94,0.52],[7.04,0.50],[7.14,0.54],[7.24,0.47],[7.34,0.51],[7.44,0.53],[7.54,0.49],[7.64,0.52],[7.74,0.48],[7.84,0.51],[7.94,0.54],[8.04,0.50],[8.14,0.53],[8.24,0.47],[8.34,0.52],[8.44,0.49],[8.54,0.53],[8.64,0.50],[8.74,0.54],[8.84,0.48],[8.94,0.52],[9.04,0.50],[9.14,0.53],[9.24,0.52],[9.34,0.49]
];

const tagwise = [].concat(tagwiseA, tagwiseB, tagwiseC, tagwiseD, tagwiseE, tagwiseCore);
const trend = trendX.map((x, i) => [x, trendY[i]]);
const common = commonX.map((x, i) => [x, commonBCV[i]]);

const FONT = "'Liberation Sans', Arial, sans-serif";
const TXT = '#000';
const chart = echarts.init(document.getElementById('c'), null, {renderer: 'canvas'});
const axisCommon = {
  type: 'value', min: 0.2, max: 16.11, splitLine: {show: false}
};
chart.setOption({
  animation: false,
  backgroundColor: '#fff',
  grid: {left: 87.5, top: 12.7, right: -3, bottom: 80.3, show: false, containLabel: false, outerBoundsMode: 'none'},
  xAxis: [
    Object.assign({}, axisCommon, {
      position: 'bottom',
      name: 'Average log CPM', nameLocation: 'middle', nameGap: 62,
      nameTextStyle: {fontFamily: FONT, fontSize: 17, color: TXT},
      axisLine: {show: true, onZero: false, lineStyle: {color: '#000', width: 1.2}},
      axisTick: {show: true, customValues: xTicks, length: 10, lineStyle: {color: '#000', width: 1}},
      axisLabel: {customValues: xTicks, margin: 24, fontFamily: FONT, fontSize: 17, color: TXT}
    }),
    Object.assign({}, axisCommon, {
      position: 'top',
      axisLine: {show: true, onZero: false, lineStyle: {color: '#000', width: 1.2}},
      axisTick: {show: false}, axisLabel: {show: false}
    })
  ],
  yAxis: {
    type: 'value', min: 0.2256, max: 1.642,
    name: 'Biological coefficient of variation', nameLocation: 'middle', nameGap: 60, nameRotate: 90,
    nameTextStyle: {fontFamily: FONT, fontSize: 17, color: TXT},
    axisLine: {show: true, onZero: false, lineStyle: {color: '#000', width: 1.2}},
    axisTick: {show: true, customValues: yTicks, length: 12, lineStyle: {color: '#000', width: 1}},
    axisLabel: {customValues: yTicks, rotate: 90, margin: 23, fontFamily: FONT, fontSize: 17, color: TXT,
      formatter: v => v.toFixed(1)},
    splitLine: {show: false}
  },
  legend: {
    orient: 'vertical', left: 548.2, top: 12.3,
    padding: [10.9, 20, 10.5, 6.5],
    itemWidth: 30, itemHeight: 14, itemGap: 4,
    borderColor: '#000', borderWidth: 1, backgroundColor: '#fff', borderRadius: 0,
    textStyle: {fontFamily: FONT, fontSize: 17, lineHeight: 17, color: TXT, padding: [0, 0, 0, 9.6]},
    data: [
      {name: 'Tagwise', icon: 'path://M0,0L0,0M30,14L30,14M14.1,6.2L15.9,6.2L15.9,7.8L14.1,7.8Z'},
      {name: 'Common', icon: 'path://M0,0L0,0M30,14L30,14M0,6L30,6L30,8L0,8Z'},
      {name: 'Trend', icon: 'path://M0,0L0,0M30,14L30,14M0,5.5L30,5.5L30,8.5L0,8.5Z'}
    ]
  },
  series: [
    {name: 'Tagwise', type: 'scatter', data: tagwise, symbol: 'rect', symbolSize: [1.8, 1.8],
      itemStyle: {color: '#111'}, z: 2, silent: true},
    {name: 'Common', type: 'line', data: common, symbol: 'none', lineStyle: {color: '#e8141c', width: 2},
      itemStyle: {color: '#e8141c'}, z: 3, silent: true},
    {name: 'Trend', type: 'line', data: trend, symbol: 'none', smooth: 0.3, lineStyle: {color: '#1a2bd6', width: 3},
      itemStyle: {color: '#1a2bd6'}, z: 4, silent: true}
  ]
});
</script></body></html>
